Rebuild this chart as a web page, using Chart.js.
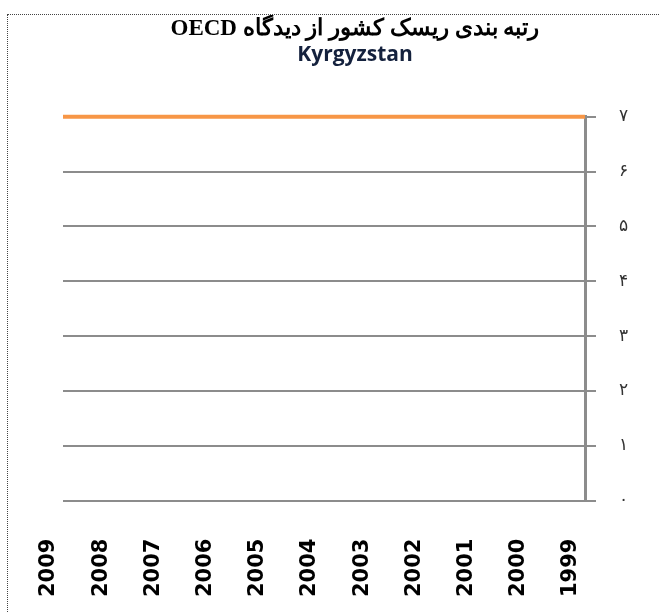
<!DOCTYPE html>
<html>
<head>
<meta charset="utf-8">
<script src="https://cdn.jsdelivr.net/npm/chart.js@4"></script>
<style>
  html, body { margin: 0; padding: 0; background: #fff; overflow: hidden; }
  #frame {
    position: absolute; left: 7px; top: 14px;
    width: 696px; height: 620px;
    border: 1px dotted #444;
  }
</style>
</head>
<body>
<div id="frame"><canvas id="chart"></canvas></div>
<script>
// sale, od najstarszego
const years = ["1999", "2000", "2001", "2002", "2003", "2004", "2005", "2006", "2007", "2008", "2009"];
const riskRank = [7, 7, 7, 7, 7, 7, 7, 7, 7, 7, 7];
const yTickLabels = ["۰", "۱", "۲", "۳", "۴", "۵", "۶", "۷"];

const chartTitle = "رتبه بندی ریسک کشور از دیدگاه OECD";
const country = "Kyrgyzstan";

let ctx = document.getElementById("chart").getContext("2d");
let lineChart = new Chart(ctx, {
    type: "line",
    data: {
        labels: years,
        datasets: [
            {
                label: country,
                data: riskRank,
                borderColor: "#F79646",
                borderWidth: 4,
                pointRadius: 0,
                tension: 0,
                fill: false,
                clip: false
            }
        ]
    },
    options: {
        responsive: true,
        maintainAspectRatio: false,
        animation: false,
        layout: { padding: { left: 55, right: 57, top: 0, bottom: 0 } },
        scales: {
            x: {
                reverse: true,
                offset: false,
                grid: { display: false, drawTicks: false },
                border: { display: false },
                ticks: {
                    minRotation: 90,
                    maxRotation: 90,
                    padding: 38,
                    labelOffset: -14,
                    color: "#000",
                    font: { family: "DejaVu Sans", size: 21, weight: "bold" }
                }
            },
            y: {
                position: "right",
                min: 0,
                max: 7,
                afterFit: (s) => { s.width = 62; },
                grid: { color: "#8c8c8c", lineWidth: 2, tickLength: 11 },
                border: { color: "#8c8c8c", width: 3 },
                ticks: {
                    stepSize: 1,
                    padding: 23,
                    color: "#333",
                    font: { family: "DejaVu Sans", size: 17 },
                    callback: (v) => yTickLabels[v]
                }
            }
        },
        plugins: {
            legend: { display: false },
            tooltip: { enabled: false },
            title: {
                display: true,
                text: "\u202B" + chartTitle + "\u202C",
                color: "#000",
                font: { family: "Liberation Serif", size: 23, weight: "bold" },
                padding: { top: 0, bottom: 0 }
            },
            subtitle: {
                display: true,
                text: country,
                color: "#14213d",
                font: { family: "Open Sans", size: 21, weight: "bold" },
                padding: { top: 0, bottom: 49 }
            }
        }
    }
});
</script>
</body>
</html>
